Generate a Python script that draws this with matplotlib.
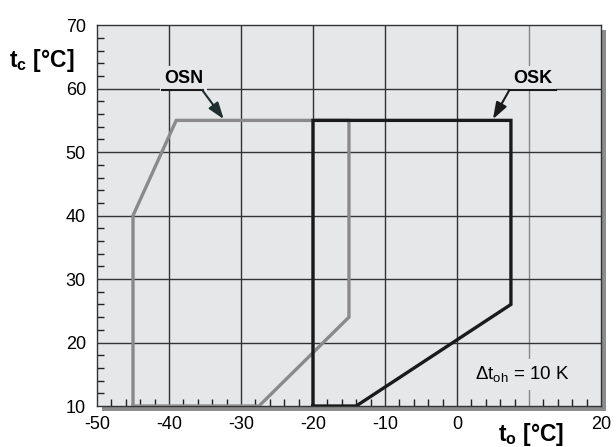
import matplotlib.pyplot as plt
from matplotlib.patches import Rectangle
from matplotlib.ticker import MultipleLocator

plt.rcParams["font.family"] = ["Liberation Sans", "DejaVu Sans"]
plt.rcParams["mathtext.fontset"] = "custom"
plt.rcParams["mathtext.rm"] = "Liberation Sans"
plt.rcParams["mathtext.it"] = "Liberation Sans"
plt.rcParams["mathtext.bf"] = "Liberation Sans:bold"

# envelope corners, evaporating temp t_o vs condensing temp t_c
osn_to = [-45, -45, -39, -15, -15, -27.5, -45]
osn_tc = [10, 40, 55, 55, 24, 10, 10]
osk_to = [-20, -20, 7.5, 7.5, -14, -20]
osk_tc = [10, 55, 55, 26, 10, 10]

x_ticks = [-50, -40, -30, -20, -10, 0, 10, 20]
x_labels = ["-50", "-40", "-30", "-20", "-10", "0", "", "20"]
y_ticks = [10, 20, 30, 40, 50, 60, 70]

bg = "#e6e7e9"

fig = plt.figure(figsize=(6.16, 4.47), dpi=100)
ax = fig.add_axes([0.1575, 0.0917, 0.818, 0.852])
ax.set_facecolor(bg)

# drop shadow behind the frame
fig.add_artist(Rectangle((0.010, -0.012), 1.0, 1.0, transform=ax.transAxes,
                         facecolor="#8c8c8c", edgecolor="none", zorder=-1))

ax.set_xlim(-50, 20)
ax.set_ylim(10, 70)
ax.set_xticks(x_ticks)
ax.set_xticklabels(x_labels)
ax.set_yticks(y_ticks)
ax.xaxis.set_minor_locator(MultipleLocator(2))
ax.yaxis.set_minor_locator(MultipleLocator(2))
ax.tick_params(which="major", length=0, labelsize=13, pad=7)
ax.tick_params(which="minor", direction="in", length=5, width=1, color="#222222")
ax.tick_params(axis="y", which="major", pad=8)

for x in x_ticks[1:-1]:
    ax.axvline(x, color="#888888" if x == 10 else "#333333", lw=1.0, zorder=1)
for y in y_ticks[1:-1]:
    ax.axhline(y, color="#333333", lw=1.0, zorder=1)

for side in ax.spines.values():
    side.set_color("#333333")
    side.set_linewidth(1.0)

ax.plot(osn_to, osn_tc, color="#8a8a8a", lw=2.4, solid_joinstyle="miter", zorder=3)
ax.plot(osk_to, osk_tc, color="#1a1a1a", lw=2.4, solid_joinstyle="miter", zorder=4)

box = dict(facecolor=bg, edgecolor="none", pad=3)
ax.text(-38.0, 61.6, "OSN", fontsize=13, fontweight="bold", ha="center", va="center",
        bbox=box, zorder=5)
ax.plot([-41, -35.3], [59.8, 59.8], color="#1a1a1a", lw=1.5, zorder=6)
ax.annotate("", xy=(-32.4, 55.2), xytext=(-35.4, 59.8),
            arrowprops=dict(arrowstyle="-|>,head_length=1.0,head_width=0.35",
                            color="#1f2f2f", lw=1.5, shrinkA=0, shrinkB=0), zorder=6)

ax.text(10.5, 61.6, "OSK", fontsize=13, fontweight="bold", ha="center", va="center",
        bbox=box, zorder=5)
ax.plot([7.3, 13.7], [59.8, 59.8], color="#1a1a1a", lw=1.5, zorder=6)
ax.annotate("", xy=(5.0, 55.2), xytext=(7.3, 59.8),
            arrowprops=dict(arrowstyle="-|>,head_length=1.0,head_width=0.35",
                            color="#1a1a1a", lw=1.5, shrinkA=0, shrinkB=0), zorder=6)

ax.text(9.1, 15.0, r"Δ$\mathrm{t_{oh}}$ = 10 K", fontsize=13.5, ha="center", va="center",
        bbox=dict(facecolor=bg, edgecolor="none", pad=4), zorder=5)

fig.text(0.014, 0.865, r"$\mathbf{t_c}$ [°C]", fontsize=16.5, fontweight="bold",
         ha="left", va="center")
fig.text(0.862, 0.028, r"$\mathbf{t_o}$ [°C]", fontsize=16.5, fontweight="bold",
         ha="center", va="center")

fig.savefig("out.png", dpi=100)
